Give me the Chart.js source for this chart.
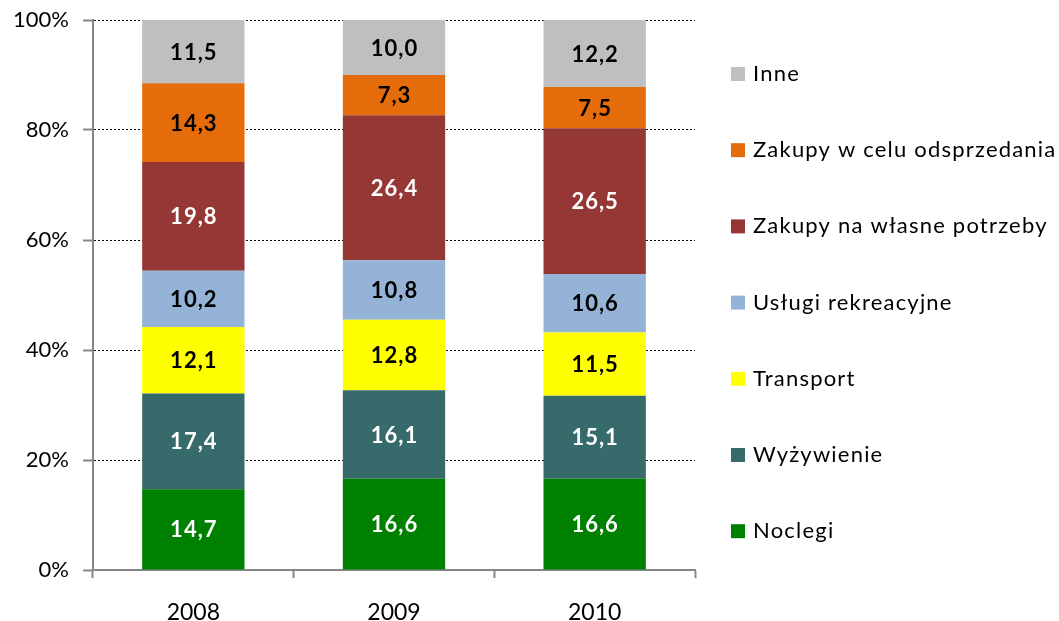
<!DOCTYPE html>
<html>
<head>
<meta charset="utf-8">
<script src="https://cdn.jsdelivr.net/npm/chart.js@4"></script>
<style>
  html, body { margin: 0; padding: 0; background: #fff; }
  #wrap { position: relative; width: 1059px; height: 621px; }
</style>
</head>
<body>
<div id="wrap"><canvas id="chart" width="1059" height="621"></canvas></div>
<script>
const years = ['2008', '2009', '2010'];
const seriesNames = ['Noclegi', 'Wyżywienie', 'Transport', 'Usługi rekreacyjne', 'Zakupy na własne potrzeby', 'Zakupy w celu odsprzedania', 'Inne'];
const noclegi = [14.7, 16.6, 16.6];
const wyzywienie = [17.4, 16.1, 15.1];
const transport = [12.1, 12.8, 11.5];
const uslugi = [10.2, 10.8, 10.6];
const zakupyWlasne = [19.8, 26.4, 26.5];
const zakupyOdsprzedaz = [14.3, 7.3, 7.5];
const inne = [11.5, 10.0, 12.2];
const yTicks = [0, 20, 40, 60, 80, 100];

const colors = ['#008000', '#376b6b', '#ffff00', '#95b3d7', '#953735', '#e46c0a', '#bfbfbf'];
const labelColors = ['#fff', '#fff', '#000', '#000', '#fff', '#000', '#000'];
const values = [noclegi, wyzywienie, transport, uslugi, zakupyWlasne, zakupyOdsprzedaz, inne];

const FONT = 'Lato, "Open Sans", sans-serif';

// value labels in the middle of each segment
const barLabels = {
    id: 'barLabels',
    afterDatasetsDraw(chart) {
        const ctx = chart.ctx;
        ctx.save();
        ctx.font = 'bold 22px ' + FONT;
        ctx.letterSpacing = '1px';
        ctx.textAlign = 'center';
        ctx.textBaseline = 'middle';
        chart.data.datasets.forEach((ds, i) => {
            chart.getDatasetMeta(i).data.forEach((bar, j) => {
                const y = (bar.y + bar.base) / 2;
                ctx.fillStyle = labelColors[i];
                ctx.fillText(ds.data[j].toFixed(1).replace('.', ','), bar.x + 0.5, y + 1);
            });
        });
        ctx.restore();
    }
};

// legend on the right, top entry = last series
const sideLegend = {
    id: 'sideLegend',
    afterDraw(chart) {
        const ctx = chart.ctx;
        ctx.save();
        ctx.font = '22px ' + FONT;
        ctx.letterSpacing = '1.2px';
        ctx.textBaseline = 'middle';
        const n = chart.data.datasets.length;
        for (let k = 0; k < n; k++) {
            const i = n - 1 - k;
            const y = 74 + k * 76.2;
            ctx.fillStyle = colors[i];
            ctx.fillRect(731, y - 7, 14, 14);
            ctx.fillStyle = '#000';
            ctx.fillText(chart.data.datasets[i].label, 753, y);
        }
        ctx.restore();
    }
};

new Chart(document.getElementById('chart').getContext('2d'), {
    type: 'bar',
    data: {
        labels: years,
        datasets: seriesNames.map((name, i) => ({
            label: name,
            data: values[i],
            backgroundColor: colors[i],
            borderWidth: 0,
            categoryPercentage: 1,
            barPercentage: 0.51
        }))
    },
    options: {
        responsive: false,
        animation: false,
        layout: { padding: { top: 20, right: 364, left: 0, bottom: 0 } },
        plugins: {
            legend: { display: false },
            tooltip: { enabled: false }
        },
        scales: {
            x: {
                stacked: true,
                afterFit(scale) {
                    scale.height = 51;
                    scale.paddingLeft = 0;
                    scale.paddingRight = 0;
                },
                border: { color: '#868686', width: 2 },
                grid: {
                    offset: true,
                    drawOnChartArea: false,
                    drawTicks: true,
                    tickLength: 8,
                    tickColor: '#868686',
                    tickWidth: 2
                },
                ticks: { color: '#000', font: { family: FONT, size: 23 }, padding: 21 }
            },
            y: {
                stacked: true,
                min: 0,
                max: 100,
                afterFit(scale) {
                    scale.width = 93;
                    scale.paddingTop = 0;
                    scale.paddingBottom = 0;
                },
                afterBuildTicks(scale) { scale.ticks = yTicks.map(v => ({ value: v })); },
                border: { color: '#868686', width: 2, dash: [2, 2] },
                grid: {
                    color: (c) => c.tick && c.tick.value === 0 ? 'rgba(0,0,0,0)' : '#000',
                    lineWidth: 1,
                    tickLength: 10,
                    tickColor: '#868686',
                    tickWidth: 2,
                    tickBorderDash: []
                },
                ticks: {
                    color: '#000',
                    font: { family: FONT, size: 22 },
                    padding: 14,
                    callback: (v) => v + '%'
                }
            }
        }
    },
    plugins: [barLabels, sideLegend]
});
</script>
</body>
</html>
